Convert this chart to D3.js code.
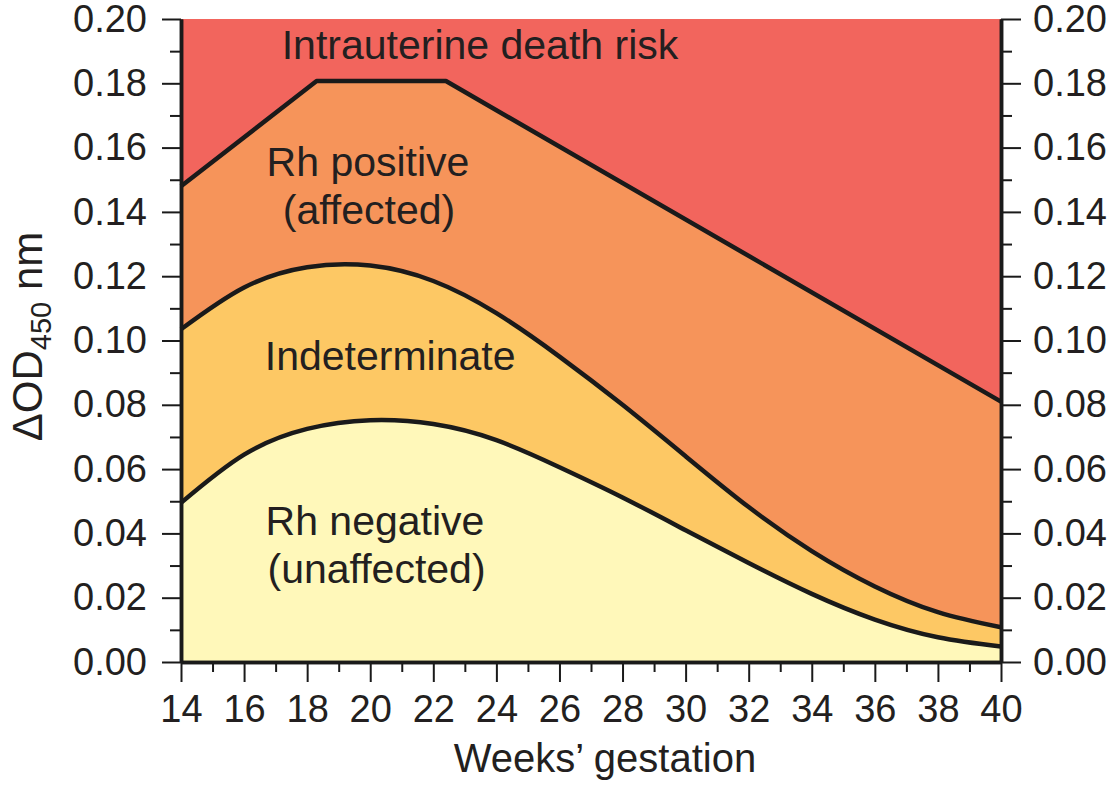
<!DOCTYPE html>
<html>
<head>
<meta charset="utf-8">
<script src="https://cdn.jsdelivr.net/npm/d3@7"></script>
<style>
    body { margin: 0; background: #fff; }
    text { font-family: "Liberation Sans", Arial, sans-serif; fill: #231f20; }
</style>
</head>
<body>
<script>
"use strict";
// weeks at which the two smooth boundaries were read
const weeks = [14, 16, 18, 20, 22, 24, 26, 28, 30, 32, 34, 36, 38, 40]
// Rh negative / indeterminate boundary
const lowerBound = [0.0495, 0.0645, 0.0725, 0.0752, 0.0740, 0.0690, 0.0606, 0.0512, 0.0410, 0.0308, 0.0212, 0.0132, 0.0077, 0.0048]
// indeterminate / Rh positive boundary
const upperBound = [0.1035, 0.1165, 0.1228, 0.1233, 0.1185, 0.1085, 0.0950, 0.0800, 0.0640, 0.0482, 0.0345, 0.0235, 0.0155, 0.0108]
// Rh positive / intrauterine death risk boundary (straight segments)
const riskWeeks = [14, 18.3, 22.4, 40]
const riskBound = [0.148, 0.1807, 0.1807, 0.081]

const xTickValues = [14, 16, 18, 20, 22, 24, 26, 28, 30, 32, 34, 36, 38, 40]
const yTickValues = [0, 0.02, 0.04, 0.06, 0.08, 0.10, 0.12, 0.14, 0.16, 0.18, 0.20]

const labelLines = ["Intrauterine death risk", "Rh positive", "(affected)", "Indeterminate", "Rh negative", "(unaffected)"]
const labelWeeks = [23.48, 19.93, 19.96, 20.63, 20.15, 20.2]
const labelValues = [0.1876, 0.1512, 0.1362, 0.0908, 0.0395, 0.0246]

const colors = {
    risk: "#f2655d",
    positive: "#f6945a",
    indeterminate: "#fdc864",
    negative: "#fff8ba"
}

const measurements = { width: 1114, height: 789, left: 181, right: 1001, top: 19, bottom: 662 }

const svg = d3.select("body").append("svg")
    .attr("width", measurements.width)
    .attr("height", measurements.height)

const x = d3.scaleLinear().domain([14, 40]).range([measurements.left, measurements.right])
const y = d3.scaleLinear().domain([0, 0.2]).range([measurements.bottom, measurements.top])

const smooth = weeks.map((w, i) => ({ w: w, lo: lowerBound[i], hi: upperBound[i] }))
const risk = riskWeeks.map((w, i) => ({ w: w, v: riskBound[i] }))

// background: risk zone over the whole plot
svg.append("path")
    .datum([{ w: 14 }, { w: 40 }])
    .attr("fill", colors.risk)
    .attr("d", d3.area().x(d => x(d.w)).y0(y(0)).y1(y(0.2)))

// layers painted from top down
svg.append("path")
    .datum(risk)
    .attr("fill", colors.positive)
    .attr("d", d3.area().x(d => x(d.w)).y0(y(0)).y1(d => y(d.v)))

svg.append("path")
    .datum(smooth)
    .attr("fill", colors.indeterminate)
    .attr("d", d3.area().curve(d3.curveNatural).x(d => x(d.w)).y0(y(0)).y1(d => y(d.hi)))

svg.append("path")
    .datum(smooth)
    .attr("fill", colors.negative)
    .attr("d", d3.area().curve(d3.curveNatural).x(d => x(d.w)).y0(y(0)).y1(d => y(d.lo)))

// boundary lines
const lineStyle = sel => sel.attr("fill", "none").attr("stroke", "#1a1a1a")
    .attr("stroke-width", 4.5).attr("stroke-linejoin", "round")

svg.append("path").datum(risk).call(lineStyle)
    .attr("d", d3.line().x(d => x(d.w)).y(d => y(d.v)))
svg.append("path").datum(smooth).call(lineStyle)
    .attr("d", d3.line().curve(d3.curveNatural).x(d => x(d.w)).y(d => y(d.hi)))
svg.append("path").datum(smooth).call(lineStyle)
    .attr("d", d3.line().curve(d3.curveNatural).x(d => x(d.w)).y(d => y(d.lo)))

// region labels
svg.append("g").selectAll("text")
    .data(labelLines)
    .enter()
    .append("text")
        .attr("x", (d, i) => x(labelWeeks[i]))
        .attr("y", (d, i) => y(labelValues[i]))
        .attr("text-anchor", "middle")
        .attr("font-size", 41)
        .text(d => d)

// axes
const xMinor = d3.range(15, 40, 2)
const yMinor = d3.range(0.01, 0.2, 0.02)

function styleAxis(g, size) {
    g.select(".domain").attr("stroke", "#1a1a1a").attr("stroke-width", 3.5)
    g.selectAll(".tick line").attr("stroke", "#1a1a1a").attr("stroke-width", 2)
    g.selectAll(".tick text").attr("font-size", size).attr("fill", "#231f20")
        .attr("font-family", '"Liberation Sans", Arial, sans-serif')
}

// minor ticks first so the main axis line sits on top
svg.append("g")
    .attr("transform", `translate(0,${measurements.bottom})`)
    .call(d3.axisBottom(x).tickValues(xMinor).tickSize(10).tickSizeOuter(0).tickFormat(""))
    .call(g => styleAxis(g, 0))
svg.append("g")
    .attr("transform", `translate(${measurements.left},0)`)
    .call(d3.axisLeft(y).tickValues(yMinor).tickSize(11).tickSizeOuter(0).tickFormat(""))
    .call(g => styleAxis(g, 0))
svg.append("g")
    .attr("transform", `translate(${measurements.right},0)`)
    .call(d3.axisRight(y).tickValues(yMinor).tickSize(11).tickSizeOuter(0).tickFormat(""))
    .call(g => styleAxis(g, 0))

svg.append("g")
    .attr("transform", `translate(0,${measurements.bottom})`)
    .call(d3.axisBottom(x).tickValues(xTickValues).tickSize(20).tickPadding(13).tickSizeOuter(0).tickFormat(d3.format("d")))
    .call(g => styleAxis(g, 38))
svg.append("g")
    .attr("transform", `translate(${measurements.left},0)`)
    .call(d3.axisLeft(y).tickValues(yTickValues).tickSize(19).tickPadding(15).tickSizeOuter(0).tickFormat(d3.format(".2f")))
    .call(g => styleAxis(g, 38))
svg.append("g")
    .attr("transform", `translate(${measurements.right},0)`)
    .call(d3.axisRight(y).tickValues(yTickValues).tickSize(20).tickPadding(12).tickSizeOuter(0).tickFormat(d3.format(".2f")))
    .call(g => styleAxis(g, 38))

// axis titles
svg.append("text")
    .attr("x", (measurements.left + measurements.right) / 2 + 14)
    .attr("y", 772)
    .attr("text-anchor", "middle")
    .attr("font-size", 40)
    .text("Weeks’ gestation")

const yTitle = svg.append("text")
    .attr("transform", `translate(42,${(measurements.top + measurements.bottom) / 2 - 4}) rotate(-90)`)
    .attr("text-anchor", "middle")
    .attr("font-size", 42)
yTitle.append("tspan").text("ΔOD")
yTitle.append("tspan").attr("font-size", 29).attr("dy", 9).text("450")
yTitle.append("tspan").attr("dy", -9).text(" nm")
</script>
</body>
</html>
